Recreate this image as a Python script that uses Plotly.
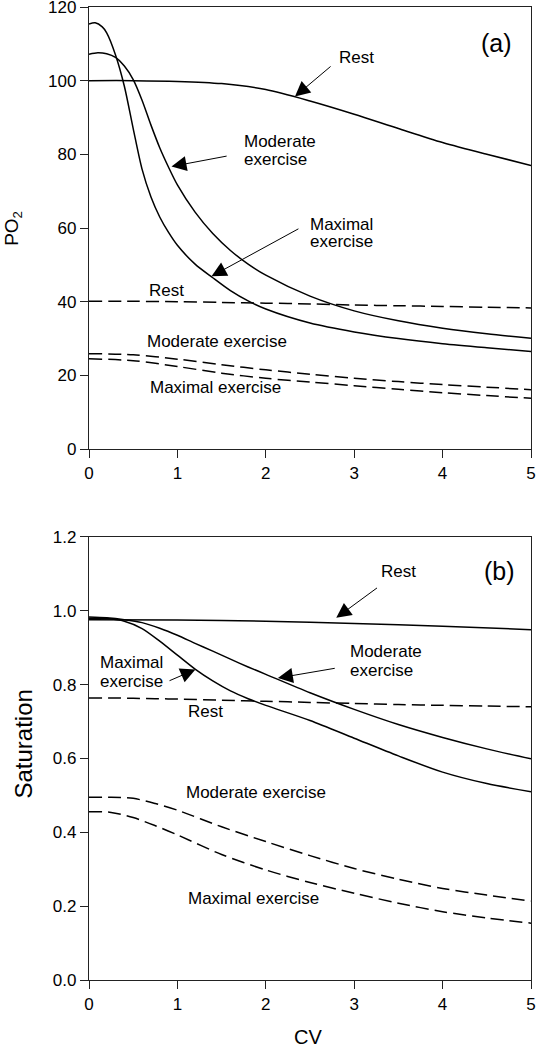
import plotly.graph_objects as go

# ---------------- Panel (a): PO2 vs CV ----------------
cv_rest_po2 = [0, 0.5, 1.0, 1.5, 2.0, 2.5, 3.0, 3.5, 4.0, 4.5, 5.0]
po2_rest = [100, 100, 99.8, 99.2, 97.6, 94.5, 90.9, 87.0, 83.2, 80.0, 77.0]

cv_mod_po2 = [0, 0.1, 0.2, 0.3, 0.4, 0.5, 0.6, 0.7, 0.8, 0.9, 1.0, 1.2, 1.4, 1.6, 1.8, 2.0, 2.5, 3.0, 3.5, 4.0, 4.5, 5.0]
po2_mod = [107.2, 107.6, 107.3, 106.3, 104.0, 100.3, 94.7, 88.0, 81.8, 76.5, 71.7, 64.3, 58.5, 53.9, 50.2, 47.2, 41.5, 37.5, 34.8, 32.8, 31.3, 30.1]

cv_max_po2 = [0, 0.07, 0.15, 0.2, 0.3, 0.4, 0.5, 0.6, 0.7, 0.8, 0.9, 1.0, 1.2, 1.4, 1.6, 1.8, 2.0, 2.5, 3.0, 3.5, 4.0, 4.5, 5.0]
po2_max = [115.4, 115.7, 114.6, 113.0, 107.0, 98.5, 87.0, 76.0, 68.5, 63.0, 58.8, 55.3, 50.2, 46.5, 43.0, 40.2, 38.0, 34.2, 31.8, 30.0, 28.6, 27.5, 26.5]

cv_dash_po2 = [0, 0.5, 1.0, 1.5, 2.0, 2.5, 3.0, 3.5, 4.0, 4.5, 5.0]
po2_rest_dash = [40.1, 40.1, 40.0, 39.8, 39.6, 39.4, 39.1, 38.9, 38.7, 38.5, 38.3]
po2_mod_dash = [25.9, 25.6, 24.4, 22.9, 21.5, 20.3, 19.2, 18.3, 17.5, 16.8, 16.1]
po2_max_dash = [24.5, 24.0, 22.4, 20.6, 19.2, 18.2, 17.2, 16.2, 15.3, 14.5, 13.8]

# ---------------- Panel (b): Saturation vs CV ----------------
cv_rest_sat = [0, 1, 2, 3, 4, 5]
sat_rest = [0.976, 0.975, 0.972, 0.966, 0.958, 0.949]

cv_mod_sat = [0, 0.2, 0.4, 0.6, 0.8, 1.0, 1.2, 1.4, 1.6, 1.8, 2.0, 2.5, 3.0, 3.5, 4.0, 4.5, 5.0]
sat_mod = [0.983, 0.981, 0.976, 0.968, 0.953, 0.934, 0.912, 0.891, 0.869, 0.848, 0.828, 0.778, 0.733, 0.692, 0.657, 0.626, 0.599]

cv_max_sat = [0, 0.2, 0.4, 0.6, 0.8, 1.0, 1.2, 1.4, 1.6, 1.8, 2.0, 2.5, 3.0, 3.5, 4.0, 4.5, 5.0]
sat_max = [0.980, 0.979, 0.972, 0.952, 0.918, 0.880, 0.842, 0.810, 0.783, 0.762, 0.744, 0.703, 0.655, 0.607, 0.563, 0.532, 0.510]

cv_dash_sat = [0, 0.25, 0.5, 0.75, 1.0, 1.5, 2.0, 2.5, 3.0, 3.5, 4.0, 4.5, 5.0]
sat_rest_dash = [0.764, 0.764, 0.763, 0.762, 0.761, 0.758, 0.755, 0.752, 0.749, 0.746, 0.744, 0.742, 0.740]
sat_mod_dash = [0.495, 0.495, 0.492, 0.478, 0.460, 0.415, 0.375, 0.337, 0.302, 0.273, 0.248, 0.230, 0.214]
sat_max_dash = [0.456, 0.454, 0.440, 0.418, 0.393, 0.340, 0.298, 0.264, 0.235, 0.208, 0.185, 0.168, 0.154]

# tick labels
x_ticks = [0, 1, 2, 3, 4, 5]
po2_ticks = [0, 20, 40, 60, 80, 100, 120]
sat_ticks = [0.0, 0.2, 0.4, 0.6, 0.8, 1.0, 1.2]

FONT = "Liberation Sans, Arial, sans-serif"
LW = 1.5
DASH = "13px,6px"

fig = go.Figure()

def add_line(x, y, xa, ya, dashed=False):
    fig.add_trace(go.Scatter(
        x=x, y=y, xaxis=xa, yaxis=ya, mode="lines",
        line=dict(color="black", width=LW, shape="spline", smoothing=0.8,
                  dash=DASH if dashed else "solid"),
        hoverinfo="skip", showlegend=False))

add_line(cv_rest_po2, po2_rest, "x", "y")
add_line(cv_mod_po2, po2_mod, "x", "y")
add_line(cv_max_po2, po2_max, "x", "y")
add_line(cv_dash_po2, po2_rest_dash, "x", "y", True)
add_line(cv_dash_po2, po2_mod_dash, "x", "y", True)
add_line(cv_dash_po2, po2_max_dash, "x", "y", True)

add_line(cv_rest_sat, sat_rest, "x2", "y2")
add_line(cv_mod_sat, sat_mod, "x2", "y2")
add_line(cv_max_sat, sat_max, "x2", "y2")
add_line(cv_dash_sat, sat_rest_dash, "x2", "y2", True)
add_line(cv_dash_sat, sat_mod_dash, "x2", "y2", True)
add_line(cv_dash_sat, sat_max_dash, "x2", "y2", True)

axis_common = dict(
    showline=True, mirror=True, linecolor="#222", linewidth=1.3,
    ticks="outside", ticklen=8, tickwidth=1.3, tickcolor="#222",
    showgrid=False, zeroline=False, automargin=False, ticklabeloverflow="allow",
    tickfont=dict(family=FONT, size=17, color="black"),
)

fig.update_layout(
    width=538, height=1050,
    margin=dict(l=89, r=7, t=7, b=70, autoexpand=False),
    paper_bgcolor="white", plot_bgcolor="white",
    showlegend=False,
    xaxis=dict(domain=[0, 1], anchor="y", range=[0, 5], tickvals=x_ticks, **axis_common),
    yaxis=dict(domain=[0.5457, 1], anchor="x", range=[0, 120], tickvals=po2_ticks, **axis_common),
    xaxis2=dict(domain=[0, 1], anchor="y2", range=[0, 5], tickvals=x_ticks, **axis_common),
    yaxis2=dict(domain=[0, 0.4553], anchor="x2", range=[0, 1.2], tickvals=sat_ticks,
                tickformat=".1f", **axis_common),
)

anns = []

def text(xr, yr, x, y, t, size=17, xanchor="center"):
    anns.append(dict(xref=xr, yref=yr, x=x, y=y, text=t, showarrow=False,
                     xanchor=xanchor, yanchor="middle",
                     font=dict(family=FONT, size=size, color="black")))

def arrow(xr, yr, tip_x, tip_y, tail_x, tail_y):
    anns.append(dict(xref=xr, yref=yr, axref=xr, ayref=yr, x=tip_x, y=tip_y,
                     ax=tail_x, ay=tail_y, text="", showarrow=True,
                     arrowhead=2, arrowsize=3, arrowwidth=1, arrowcolor="black",
                     standoff=0, startstandoff=0))

# panel (a) labels
text("x", "y", 4.61, 110.2, "(a)", size=25)
text("x", "y", 3.03, 106.2, "Rest")
arrow("x", "y", 2.33, 95.7, 2.75, 104.2)
text("x", "y", 1.726, 83.5, "Moderate", xanchor="left")
text("x", "y", 1.726, 78.5, "exercise", xanchor="left")
arrow("x", "y", 0.933, 76.7, 1.574, 79.6)
text("x", "y", 2.48, 60.9, "Maximal", xanchor="left")
text("x", "y", 2.48, 56.4, "exercise", xanchor="left")
arrow("x", "y", 1.386, 46.9, 2.386, 60.0)
text("x", "y", 0.877, 43.1, "Rest")
text("x", "y", 0.631, 29.2, "Moderate exercise", xanchor="left")
text("x", "y", 0.665, 16.8, "Maximal exercise", xanchor="left")

# panel (b) labels
text("x2", "y2", 4.64, 1.107, "(b)", size=25)
text("x2", "y2", 3.50, 1.107, "Rest")
arrow("x2", "y2", 2.797, 0.981, 3.275, 1.065)
text("x2", "y2", 2.933, 0.890, "Moderate", xanchor="left")
text("x2", "y2", 2.933, 0.839, "exercise", xanchor="left")
arrow("x2", "y2", 2.137, 0.818, 2.797, 0.845)
text("x2", "y2", 0.097, 0.861, "Maximal", xanchor="left")
text("x2", "y2", 0.097, 0.809, "exercise", xanchor="left")
arrow("x2", "y2", 1.204, 0.841, 0.894, 0.809)
text("x2", "y2", 1.32, 0.728, "Rest")
text("x2", "y2", 1.884, 0.507, "Moderate exercise")
text("x2", "y2", 1.865, 0.221, "Maximal exercise")

# axis titles
anns.append(dict(xref="paper", yref="paper", x=-0.172, y=0.773, text="PO<sub>2</sub>",
                 textangle=-90, showarrow=False, xanchor="center", yanchor="middle",
                 font=dict(family=FONT, size=19, color="black")))
anns.append(dict(xref="paper", yref="paper", x=-0.148, y=0.2426, text="Saturation",
                 textangle=-90, showarrow=False, xanchor="center", yanchor="middle",
                 font=dict(family=FONT, size=24, color="black")))
anns.append(dict(xref="paper", yref="paper", x=0.496, y=-0.0586, text="CV",
                 showarrow=False, xanchor="center", yanchor="middle",
                 font=dict(family=FONT, size=20, color="black")))

fig.update_layout(annotations=anns)
fig.write_html("out.html",
               config={"displayModeBar": False},
               post_script="document.body.style.margin='0';document.body.style.overflow='hidden';")
